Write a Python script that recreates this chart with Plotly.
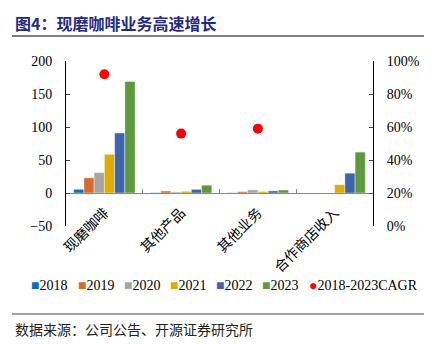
import plotly.graph_objects as go

categories = ["现磨咖啡", "其他产品", "其他业务", "合作商店收入"]
years = ["2018", "2019", "2020", "2021", "2022", "2023"]
v2018 = [5.6, 0.5, 0.3, 0]
v2019 = [23, 3, 2, 0]
v2020 = [31, 1.5, 4.8, 0]
v2021 = [58.6, 2.5, 2.2, 12.6]
v2022 = [91, 5.5, 3.2, 30]
v2023 = [169, 11.8, 4.6, 62]
cagr = [0.92, 0.56, 0.59, None]
series = [v2018, v2019, v2020, v2021, v2022, v2023]
colors = ["#0A70C0", "#D56B2B", "#A5A5A5", "#E1AB04", "#3C64AF", "#5E9A3D"]

SERIF = "Liberation Serif, Times New Roman, serif"
CJK = "Noto Sans CJK SC"

fig = go.Figure()
for name, vals, c in zip(years, series, colors):
    fig.add_trace(go.Bar(x=categories, y=vals, name=name, marker_color=c,
                         marker_line=dict(width=0.6, color="rgba(255,255,255,0.7)")))
fig.add_trace(go.Scatter(x=categories, y=cagr, name="2018-2023CAGR", mode="markers",
                         marker=dict(color="#FF0000", size=10), yaxis="y2"))

L, R, T, B = 66, 64, 61, 118
PW, PH = 437 - L - R, 344 - T - B
def px(x):
    return (x - L) / PW
def py(y):
    return (344 - B - y) / PH

ann = []
ann.append(dict(text="<b>图4：现磨咖啡业务高速增长</b>", x=px(13), y=py(23), xref="paper", yref="paper",
                xanchor="left", yanchor="middle", showarrow=False,
                font=dict(family=CJK, size=16, color="#1F2A86")))
ann.append(dict(text="数据来源：公司公告、开源证券研究所", x=px(13), y=py(329), xref="paper", yref="paper",
                xanchor="left", yanchor="middle", showarrow=False,
                font=dict(family=CJK, size=14, color="#222222")))
leg_x = [29, 75.5, 122, 168, 214, 260, 306.5]
leg_names = years + ["2018-2023CAGR"]
leg_cols = colors + ["#FF0000"]
for i, (nm, c, lx) in enumerate(zip(leg_names, leg_cols, leg_x)):
    sym = "■" if i < 6 else "●"
    ann.append(dict(text=f"<span style='color:{c};font-size:14px'>{sym}</span>{nm}",
                    x=px(lx), y=py(285), xref="paper", yref="paper",
                    xanchor="left", yanchor="middle", showarrow=False,
                    font=dict(family=SERIF, size=14, color="#000000")))

shapes = [
    dict(type="line", xref="paper", yref="paper", x0=px(12), x1=px(424), y0=py(36), y1=py(36),
         line=dict(color="#808080", width=2)),
    dict(type="line", xref="paper", yref="paper", x0=px(12), x1=px(424), y0=py(314), y1=py(314),
         line=dict(color="#808080", width=1.5)),
]

fig.update_layout(
    width=437, height=344,
    margin=dict(l=L, r=R, t=T, b=B, pad=0),
    paper_bgcolor="white", plot_bgcolor="white",
    barmode="group", bargap=0.2, bargroupgap=0,
    showlegend=False,
    annotations=ann, shapes=shapes,
    font=dict(family=SERIF, size=14, color="#000000"),
    xaxis=dict(anchor="free", position=0.2, showline=True, linecolor="#888888", linewidth=1,
               tickangle=-45, tickson="boundaries", ticks="inside", ticklen=4,
               tickcolor="#888888", tickfont=dict(family=CJK, size=14), showgrid=False,
               ticklabelstandoff=5),
    yaxis=dict(range=[-50, 200], dtick=50, showline=True, linecolor="#000000", linewidth=1,
               ticks="inside", ticklen=4, showgrid=False, zeroline=False,
               tickfont=dict(family=SERIF, size=14), ticklabelstandoff=10),
    yaxis2=dict(range=[0, 1], dtick=0.2, tickformat=".0%", overlaying="y", side="right",
                showline=True, linecolor="#000000", linewidth=1, ticks="inside", ticklen=4,
                showgrid=False, zeroline=False, tickfont=dict(family=SERIF, size=14),
                ticklabelstandoff=10),
)

fig.write_html("out.html")
